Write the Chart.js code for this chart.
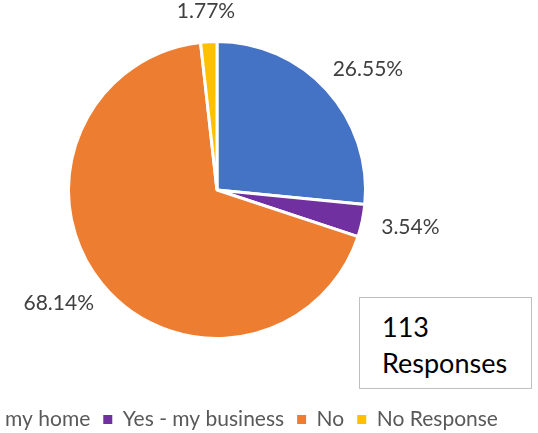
<!DOCTYPE html>
<html>
<head>
<meta charset="utf-8">
<script src="https://cdn.jsdelivr.net/npm/chart.js@4"></script>
<style>
  html, body { margin: 0; padding: 0; background: #fff; overflow: hidden; }
  body { width: 538px; height: 433px; position: relative; font-family: Lato, sans-serif; }
  #wrap { position: absolute; left: -133px; top: -20px; width: 700px; height: 460px; }
  #note {
    position: absolute; left: 359px; top: 297px; width: 173px; height: 92px;
    box-sizing: border-box; border: 1px solid #bfbfbf; background: #fff;
    padding: 11px 0 0 22px; font-size: 27px; line-height: 36px; color: #000;
  }
</style>
</head>
<body>
<div id="wrap"><canvas id="pie" width="700" height="460"></canvas></div>
<div id="note"></div>

<script>
const categories = ['Yes - my home', 'Yes - my business', 'No', 'No Response'];
const shares = [26.55, 3.54, 68.14, 1.77];   // percent of responses
const totalResponses = 113;
const colors = ['#4472C4', '#7030A0', '#ED7D31', '#FFC000'];

document.getElementById('note').innerHTML = totalResponses + '<br>Responses';

// percentage labels sitting just outside each slice
const outsideLabels = {
    id: 'outsideLabels',
    afterDatasetsDraw(chart) {
        const ctx = chart.ctx;
        const meta = chart.getDatasetMeta(0);
        ctx.save();
        ctx.font = '21px Lato, sans-serif';
        ctx.fillStyle = '#404040';
        ctx.textAlign = 'center';
        ctx.textBaseline = 'middle';
        meta.data.forEach((arc, i) => {
            const { x, y, startAngle, endAngle, outerRadius } =
                arc.getProps(['x', 'y', 'startAngle', 'endAngle', 'outerRadius'], true);
            const mid = (startAngle + endAngle) / 2;
            const text = shares[i].toFixed(2) + '%';
            const w = ctx.measureText(text).width;
            const h = 22;
            const d = outerRadius + 20;
            const cx = x + Math.cos(mid) * (d + w / 2);
            const cy = y + Math.sin(mid) * (d + h / 2);
            ctx.fillText(text, cx, cy);
        });
        ctx.restore();
    }
};

new Chart(document.getElementById('pie'), {
    type: 'pie',
    data: {
        labels: categories,
        datasets: [{
            data: shares,
            backgroundColor: colors,
            borderColor: '#ffffff',
            borderWidth: 3,
            radius: 148.5
        }]
    },
    options: {
        responsive: false,
        animation: false,
        layout: { padding: { top: 4, bottom: 0, left: 0, right: 0 } },
        plugins: {
            tooltip: { enabled: false },
            legend: {
                position: 'bottom',
                labels: {
                    boxWidth: 9,
                    boxHeight: 9,
                    padding: 13,
                    color: '#595959',
                    font: { family: 'Lato, sans-serif', size: 21 },
                    generateLabels(chart) {
                        const items = Chart.overrides.pie.plugins.legend.labels.generateLabels(chart);
                        return items.map(it => Object.assign(it, { lineWidth: 0 }));
                    }
                }
            }
        }
    },
    plugins: [outsideLabels]
});
</script>
</body>
</html>
